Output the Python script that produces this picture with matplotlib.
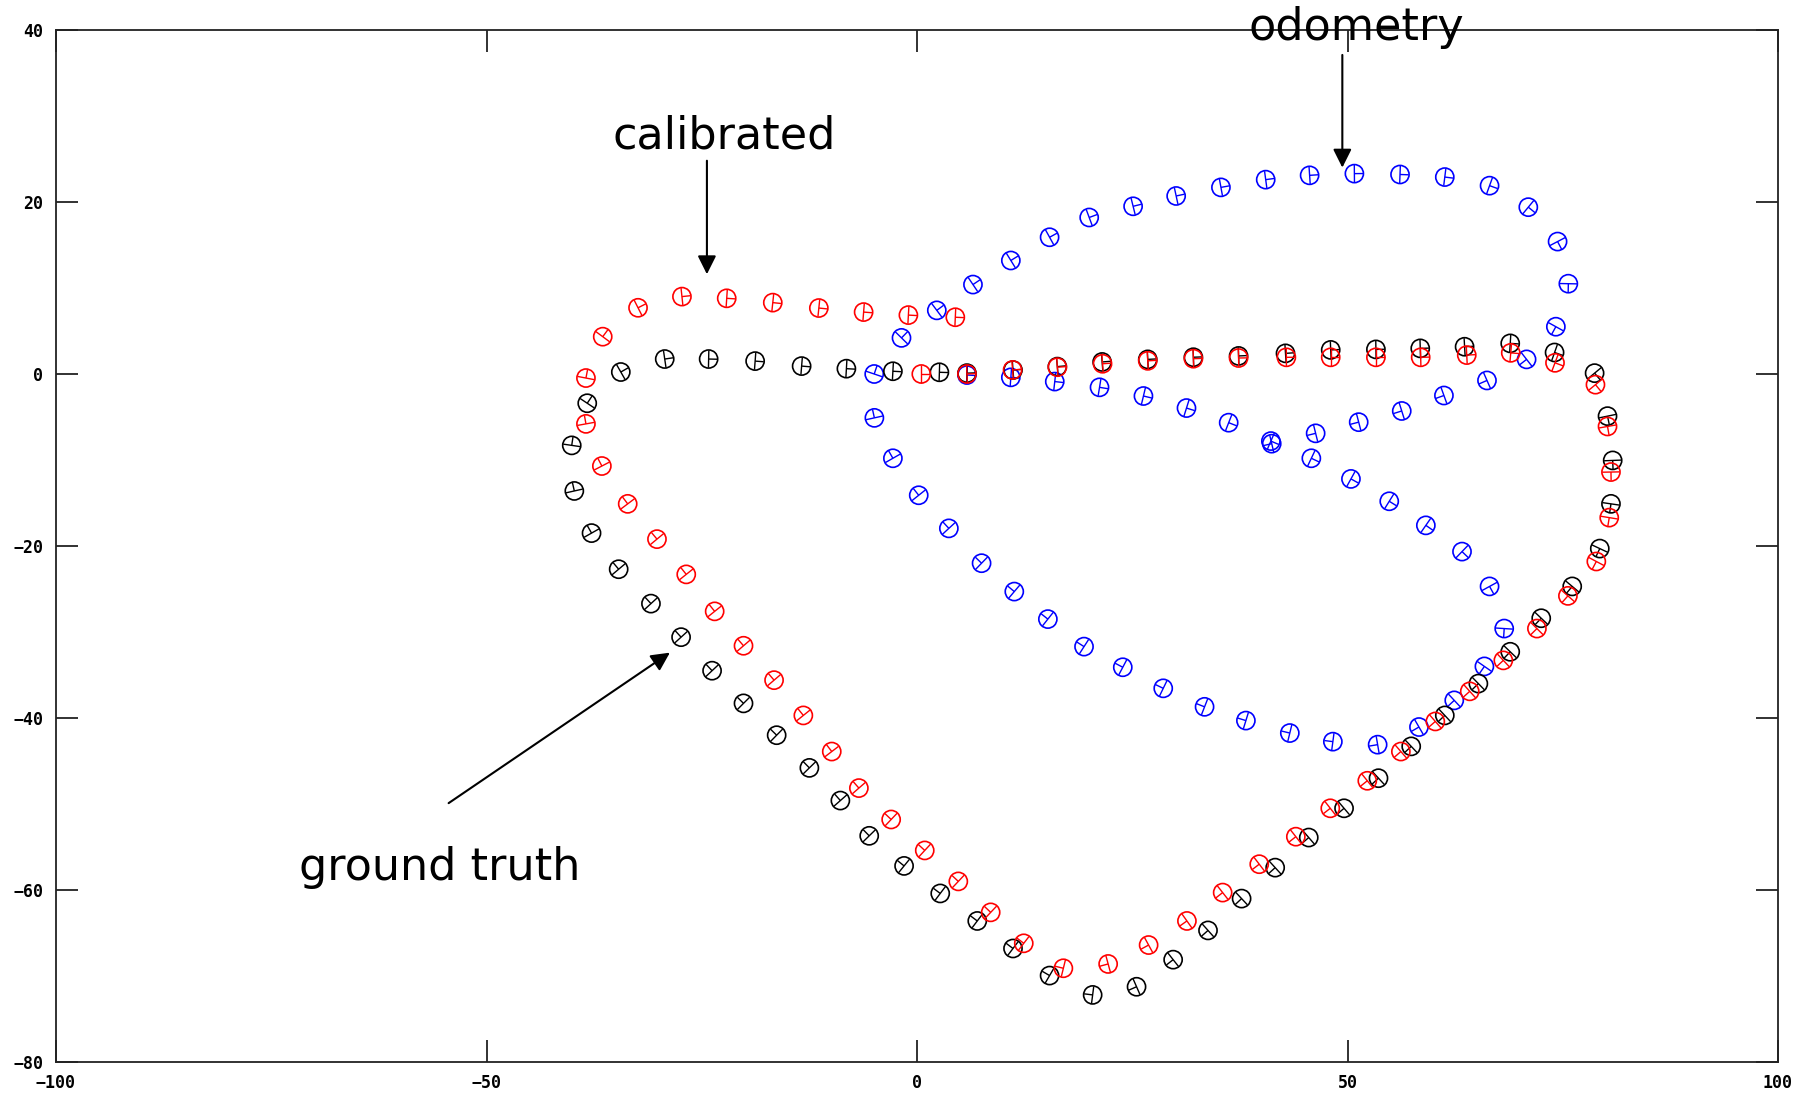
import numpy as np
import matplotlib
matplotlib.use("Agg")
import matplotlib.pyplot as plt
from matplotlib.collections import LineCollection

# ---------------- data ----------------
gt_x = [2.6, 5.8, 11.15, 16.3, 21.5, 26.8, 32.1, 37.35, 42.8, 48.05, 53.3, 58.45, 63.6, 68.9,
        74.05, 78.7, 80.2, 80.8, 80.6, 79.3, 76.1, 72.5, 68.9, 65.2, 61.3, 57.4, 53.6, 49.6,
        45.5, 41.6, 37.7, 33.8, 29.75, 25.5, 20.4, 15.4, 11.15, 7.0, 2.7, -1.5, -5.55, -8.9,
        -12.5, -16.3, -20.15, -23.8, -27.4, -30.9, -34.65, -37.8, -39.8, -40.1, -38.3, -34.4,
        -29.3, -24.2, -18.8, -13.4, -8.2, -2.8]
gt_y = [0.2, 0.1, 0.46, 0.86, 1.4, 1.7, 1.95, 2.1, 2.4, 2.8, 2.86, 2.98, 3.17, 3.56,
        2.5, 0.1, -4.9, -10.05, -15.1, -20.3, -24.7, -28.4, -32.3, -36.0, -39.7, -43.3, -47.0,
        -50.5, -53.9, -57.4, -61.0, -64.7, -68.1, -71.25, -72.2, -69.95, -66.8, -63.6, -60.4,
        -57.2, -53.7, -49.6, -45.8, -42.0, -38.3, -34.5, -30.6, -26.7, -22.7, -18.5, -13.6,
        -8.3, -3.4, 0.23, 1.74, 1.74, 1.5, 0.92, 0.62, 0.32]

cal_x = [0.5, 5.8, 11.1, 16.3, 21.55, 26.8, 32.1, 37.35, 42.9, 48.05, 53.3, 58.5, 63.85,
         68.96, 74.1, 78.8, 80.2, 80.6, 80.4, 78.9, 75.6, 72.0, 68.1, 64.2, 60.2, 56.2, 52.3,
         48.0, 44.0, 39.75, 35.5, 31.35, 26.9, 22.2, 17.0, 12.4, 8.56, 4.8, 0.9, -3.0, -6.75,
         -9.9, -13.2, -16.6, -20.15, -23.5, -26.8, -30.2, -33.6, -36.6, -38.45, -38.45, -36.5,
         -32.4, -27.3, -22.1, -16.75, -11.4, -6.2, -1.0, 4.45]
cal_y = [0.0, 0.0, 0.47, 0.79, 1.19, 1.53, 1.78, 1.86, 1.94, 1.94, 1.94, 1.94, 2.2,
         2.46, 1.3, -1.24, -6.1, -11.4, -16.7, -21.8, -25.8, -29.6, -33.3, -36.9, -40.4, -43.9,
         -47.3, -50.5, -53.8, -57.0, -60.3, -63.6, -66.4, -68.6, -69.1, -66.2, -62.6, -59.0,
         -55.4, -51.8, -48.15, -43.9, -39.7, -35.6, -31.6, -27.6, -23.3, -19.2, -15.1, -10.7,
         -5.8, -0.47, 4.34, 7.7, 9.0, 8.8, 8.3, 7.67, 7.2, 6.85, 6.6]

odo_x = [5.8, 10.9, 16.0, 21.2, 26.3, 31.3, 36.2, 41.1, 45.8, 50.4, 54.85, 59.1, 63.3,
         66.5, 68.2, 65.9, 62.4, 58.3, 53.5, 48.3, 43.3, 38.2, 33.4, 28.6, 23.9, 19.4, 15.2,
         11.3, 7.5, 3.7, 0.2, -2.8, -4.95, -4.97, -1.8, 2.3, 6.5, 10.9, 15.4, 20.0, 25.1, 30.1,
         35.3, 40.5, 45.6, 50.8, 56.1, 61.3, 66.5, 71.0, 74.4, 75.65, 74.2, 70.8, 66.2, 61.2,
         56.3, 51.3, 46.3, 41.2]
odo_y = [-0.12, -0.39, -0.88, -1.55, -2.56, -3.96, -5.66, -7.8, -9.8, -12.2, -14.8, -17.6,
         -20.65, -24.7, -29.6, -34.0, -37.95, -41.05, -43.1, -42.75, -41.75, -40.3, -38.7,
         -36.55, -34.1, -31.7, -28.5, -25.3, -22.0, -17.95, -14.1, -9.8, -5.1, 0.0, 4.2, 7.4,
         10.4, 13.2, 15.9, 18.2, 19.5, 20.7, 21.7, 22.6, 23.1, 23.3, 23.2, 22.9, 21.9, 19.4,
         15.4, 10.5, 5.5, 1.7, -0.75, -2.5, -4.3, -5.6, -6.9, -8.1]

x_ticks = [-100, -50, 0, 50, 100]
y_ticks = [-80, -60, -40, -20, 0, 20, 40]

# ---------------- figure ----------------
W, H = 1805, 1096
fig = plt.figure(figsize=(W / 100, H / 100), dpi=100)
ax = fig.add_axes([56 / W, 1 - 1062 / H, (1778 - 56) / W, (1062 - 30) / H])
ax.set_xlim(-100, 100)
ax.set_ylim(-80, 40)

R = 1.0


def draw_poses(x, y, color, z):
    x = np.asarray(x, float)
    y = np.asarray(y, float)
    th = np.arctan2(np.gradient(y), np.gradient(x))
    ax.scatter(x, y, s=170, facecolors="none", edgecolors=color, linewidths=1.2, zorder=z)
    c, s = np.cos(th), np.sin(th)
    segs = []
    for xi, yi, ci, si in zip(x, y, c, s):
        segs.append([(xi, yi), (xi + R * ci, yi + R * si)])
        segs.append([(xi - R * si, yi + R * ci), (xi + R * si, yi - R * ci)])
    ax.add_collection(LineCollection(segs, colors=color, linewidths=1.0, zorder=z))


draw_poses(odo_x, odo_y, "#0000ff", 3)
draw_poses(gt_x, gt_y, "#000000", 4)
draw_poses(cal_x, cal_y, "#ff0000", 5)

# ---------------- annotations ----------------
arrow = dict(arrowstyle="-|>,head_length=0.4,head_width=0.2", mutation_scale=28,
             color="black", lw=1.5, shrinkA=0, shrinkB=0)
ax.annotate("", xy=(-24.4, 11.6), xytext=(-24.4, 24.8), arrowprops=arrow)
ax.annotate("", xy=(49.4, 24.0), xytext=(49.4, 37.1), arrowprops=arrow)
ax.annotate("", xy=(-28.7, -32.4), xytext=(-54.4, -49.9), arrowprops=arrow)

tk = dict(fontsize=32, family="DejaVu Sans", color="black", ha="center", va="baseline")
ax.text(-22.4, 26.2, "calibrated", **tk)
ax.text(51.0, 38.8, "odometry", clip_on=False, **tk)
ax.text(-55.4, -58.8, "ground truth", **tk)

# ---------------- axes styling ----------------
ax.set_xticks(x_ticks)
ax.set_yticks(y_ticks)
ax.tick_params(direction="in", length=16, width=1.3, top=True, right=True,
               colors="#222222", labelsize=12)
ax.tick_params(axis="x", pad=9)
ax.tick_params(axis="y", pad=9)
for lab in ax.get_xticklabels() + ax.get_yticklabels():
    lab.set_fontfamily("DejaVu Sans Mono")
    lab.set_fontweight("bold")
    lab.set_color("black")
for sp in ax.spines.values():
    sp.set_linewidth(1.3)
    sp.set_color("#222222")

fig.savefig("out.png", dpi=100)
